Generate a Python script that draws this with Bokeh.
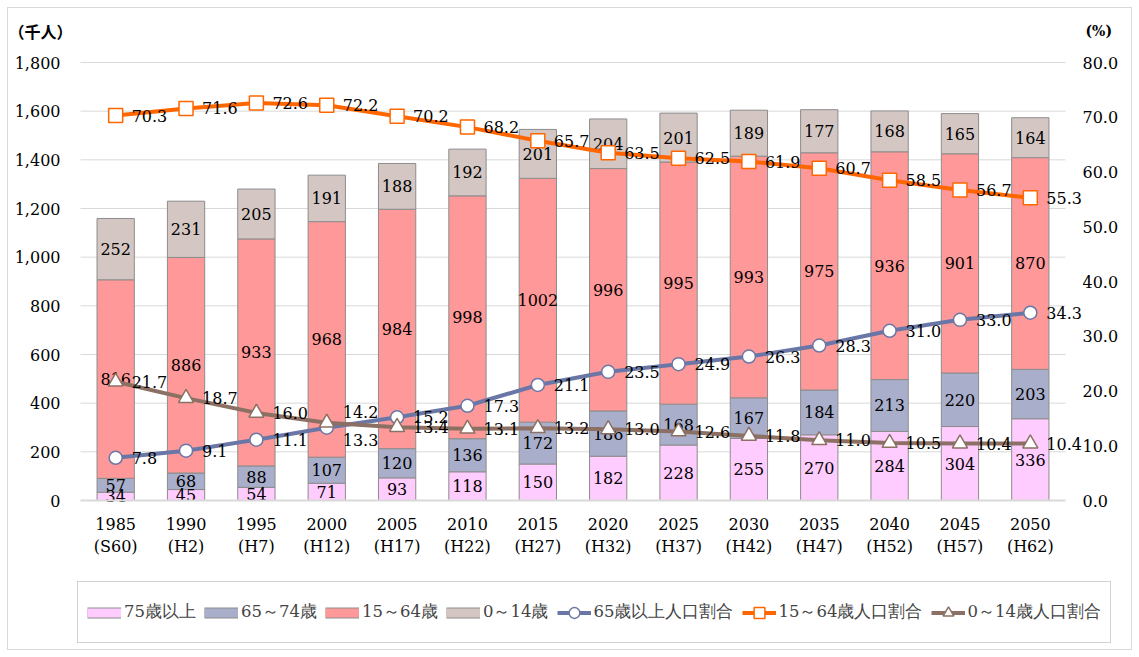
from bokeh.plotting import figure
from bokeh.models import (Range1d, LinearAxis, Legend, LegendItem, Label,
                          NumeralTickFormatter, FixedTicker, ColumnDataSource)
from bokeh.core.properties import value
from bokeh.embed import file_html
from bokeh.resources import INLINE

# ---------------- data ----------------
years = ["1985", "1990", "1995", "2000", "2005", "2010", "2015",
         "2020", "2025", "2030", "2035", "2040", "2045", "2050"]
eras = ["S60", "H2", "H7", "H12", "H17", "H22", "H27",
        "H32", "H37", "H42", "H47", "H52", "H57", "H62"]
age75_over = [34, 45, 54, 71, 93, 118, 150, 182, 228, 255, 270, 284, 304, 336]
age65_74 = [57, 68, 88, 107, 120, 136, 172, 186, 168, 167, 184, 213, 220, 203]
age15_64 = [816, 886, 933, 968, 984, 998, 1002, 996, 995, 993, 975, 936, 901, 870]
age0_14 = [252, 231, 205, 191, 188, 192, 201, 204, 201, 189, 177, 168, 165, 164]
ratio65_over = [7.8, 9.1, 11.1, 13.3, 15.2, 17.3, 21.1, 23.5, 24.9, 26.3, 28.3, 31.0, 33.0, 34.3]
ratio15_64 = [70.3, 71.6, 72.6, 72.2, 70.2, 68.2, 65.7, 63.5, 62.5, 61.9, 60.7, 58.5, 56.7, 55.3]
ratio0_14 = [21.7, 18.7, 16.0, 14.2, 13.4, 13.1, 13.2, 13.0, 12.6, 11.8, 11.0, 10.5, 10.4, 10.4]
left_ticks = [0, 200, 400, 600, 800, 1000, 1200, 1400, 1600, 1800]
right_ticks = [0, 10, 20, 30, 40, 50, 60, 70, 80]
bar_names = ["75歳以上", "65～74歳", "15～64歳", "0～14歳"]
line_names = ["65歳以上人口割合", "15～64歳人口割合", "0～14歳人口割合"]
left_unit = "（千人）"
right_unit = "(%)"

# ---------------- layout (pixels) ----------------
W, H = 1123, 641
PL, PR = 72, 1057      # plot area left/right inside the canvas
PT, PB = 54, 492       # plot area top/bottom inside the canvas

# ---------------- styles ----------------
SERIF = "DejaVu Serif"
FS = "16px"
bar_colors = ["#FFCCFF", "#A9AECB", "#FF9999", "#D4C7C3"]
bar_edge = "#8C8C8C"
line_colors = ["#6A77A6", "#FF6600", "#8C7063"]
markers = ["circle", "square", "triangle"]
marker_sizes = [13, 14, 15]

n = len(years)
xs = [i + 0.5 for i in range(n)]
xlabels = {x: f"{y}\n({e})" for x, y, e in zip(xs, years, eras)}

ymax = left_ticks[-1]
rmax = right_ticks[-1]
ux = n / (PR - PL)            # data units per pixel (x)
uy = ymax / (PB - PT)         # data units per pixel (left y)
ur = rmax / (PB - PT)         # data units per pixel (right y)

p = figure(x_range=Range1d(-PL * ux, n + (W - PR) * ux),
           y_range=Range1d(-(H - PB) * uy, ymax + PT * uy),
           width=W, height=H, output_backend="svg", toolbar_location=None,
           min_border=0, min_border_left=0, min_border_right=0,
           min_border_top=0, min_border_bottom=0)
p.styles = {"outline": "1px solid #D9D9D9", "margin": "8px"}
p.outline_line_color = None
p.title.visible = False
p.xgrid.visible = False
p.ygrid.visible = False
p.extra_y_ranges = {"pct": Range1d(-(H - PB) * ur, rmax + PT * ur)}

# grid lines limited to the plot area
p.segment(x0=[0] * (len(left_ticks) - 1), x1=[n] * (len(left_ticks) - 1),
          y0=left_ticks[1:], y1=left_ticks[1:], line_color="#D9D9D9", line_width=1,
          level="underlay")


def style_axis(ax, standoff):
    ax.axis_line_color = None
    ax.major_tick_line_color = None
    ax.minor_tick_line_color = None
    ax.major_tick_out = 0
    ax.major_tick_in = 0
    ax.major_label_standoff = standoff
    ax.major_label_text_font = SERIF
    ax.major_label_text_font_size = FS
    ax.major_label_text_color = "black"


# left axis
la = p.left[0]
style_axis(la, 20)
la.ticker = FixedTicker(ticks=left_ticks)
la.formatter = NumeralTickFormatter(format="0,0")
la.fixed_location = 0

# bottom axis
ba = p.below[0]
style_axis(ba, 14)
ba.ticker = FixedTicker(ticks=xs)
ba.major_label_overrides = xlabels
ba.bounds = (0, n)
ba.axis_line_color = "#D9D9D9"
ba.axis_line_width = 2
ba.major_label_text_line_height = 1.2
ba.fixed_location = 0

# right axis
ra = LinearAxis(y_range_name="pct", ticker=FixedTicker(ticks=right_ticks),
                formatter=NumeralTickFormatter(format="0.0"), fixed_location=n)
style_axis(ra, 17)
p.add_layout(ra, "right")

# bars
src = ColumnDataSource(dict(x=xs, a=age75_over, b=age65_74, c=age15_64, d=age0_14))
bar_rs = p.vbar_stack(["a", "b", "c", "d"], x="x", width=0.53, source=src,
                      fill_color=bar_colors, line_color=bar_edge, line_width=1)

stack = [age75_over, age65_74, age15_64, age0_14]
bottoms = [0] * n
for vals in stack:
    mids = [b + v / 2 for b, v in zip(bottoms, vals)]
    p.text(x=xs, y=mids, text=[str(v) for v in vals], text_align="center",
           text_baseline="middle", text_font=value(SERIF), text_font_size=FS,
           text_color="black")
    bottoms = [b + v for b, v in zip(bottoms, vals)]

# lines
series = [ratio65_over, ratio15_64, ratio0_14]
line_items = []
for vals, col, mk, ms, name in zip(series, line_colors, markers, marker_sizes, line_names):
    lr = p.line(xs, vals, y_range_name="pct", line_color=col, line_width=4)
    sr = p.scatter(xs, vals, y_range_name="pct", marker=mk, size=ms,
                   fill_color="white", line_color=col, line_width=1.5)
    line_items.append(LegendItem(label=name, renderers=[lr, sr]))

for vals in series:
    yoff = [0] * n
    if vals is ratio0_14:
        yoff[3] = -11
    if vals is ratio65_over:
        yoff[3] = 12
    p.text(x=xs, y=vals, text=[f"{v:.1f}" for v in vals], y_range_name="pct",
           x_offset=16, y_offset=yoff, text_align="left", text_baseline="middle",
           text_font=value(SERIF), text_font_size=FS, text_color="black")

# unit labels above the axes
p.add_layout(Label(x=-PL * ux, y=ymax + 32 * uy, text=left_unit,
                   text_font="Noto Sans CJK JP", text_font_size="16px",
                   text_font_style="bold", text_baseline="middle", text_align="left",
                   text_color="black"))
p.add_layout(Label(x=n + 20 * ux, y=ymax + 32 * uy, text=right_unit,
                   text_font=SERIF, text_font_size="14px", text_font_style="bold",
                   text_baseline="middle", text_align="left", text_color="black"))

# legend swatches for the bar series (renderers with no visible points; legend only)
nan = float("nan")
bar_items = []
for nm, col in zip(bar_names, bar_colors):
    edge = p.line(x=[nan], y=[nan], line_color=bar_edge, line_width=11)
    fill = p.line(x=[nan], y=[nan], line_color=col, line_width=9)
    bar_items.append(LegendItem(label=nm, renderers=[edge, fill]))

legend = Legend(items=bar_items + line_items, location=(69, 6), orientation="horizontal",
                glyph_width=34, glyph_height=27, label_standoff=3, spacing=8,
                padding=9, label_height=42, margin=0,
                label_text_font=SERIF, label_text_font_size="16.5px",
                border_line_color="#A6A6A6", border_line_width=1,
                background_fill_color="white", background_fill_alpha=1)
p.add_layout(legend, "center")

open("out.html", "w").write(file_html(p, INLINE))
